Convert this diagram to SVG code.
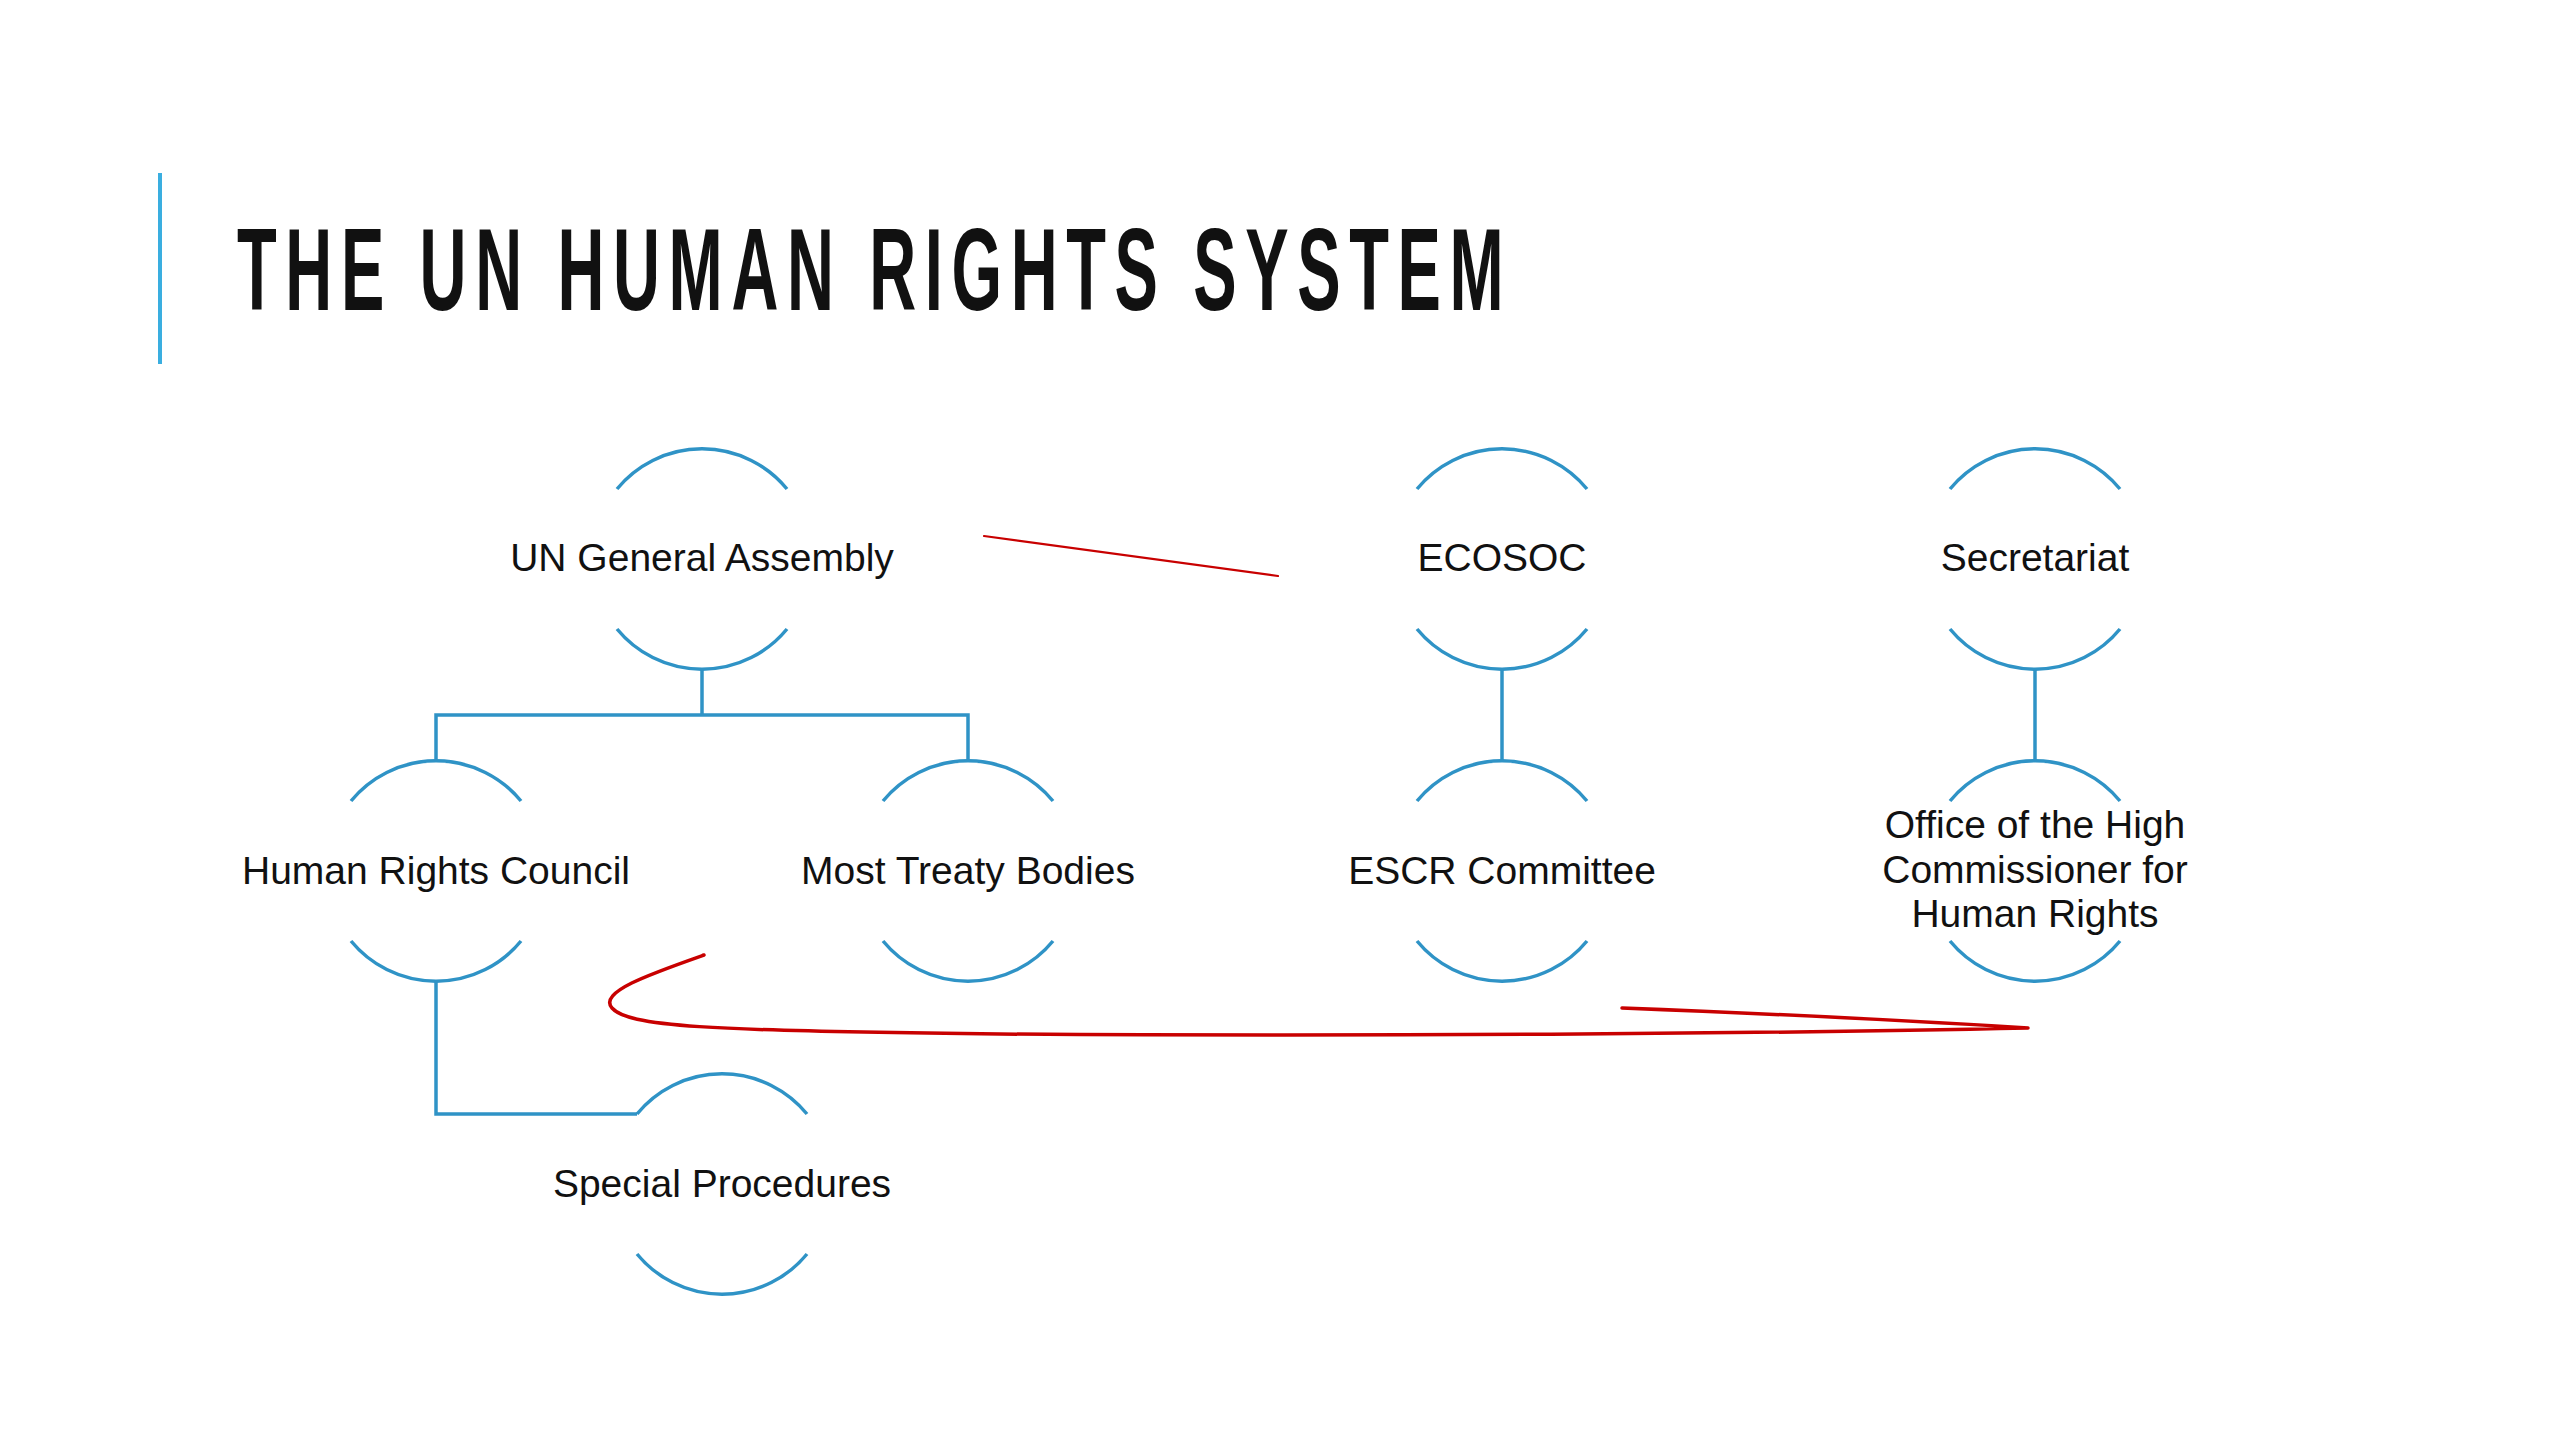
<svg xmlns="http://www.w3.org/2000/svg" width="2560" height="1440" viewBox="0 0 2560 1440">
<style>
.arc{fill:none;stroke:#2f93c6;stroke-width:3.5}
.conn{fill:none;stroke:#2f93c6;stroke-width:3.5}
.lbl{font-family:"Liberation Sans",Arial,sans-serif;font-size:39px;fill:#111;text-anchor:middle}
.title{font-family:"Liberation Sans",Arial,sans-serif;font-size:116px;font-weight:bold;fill:#111}
.ink{fill:none;stroke:#c80000;stroke-linecap:round;stroke-linejoin:round}
</style>
<defs>
<path id="top" d="M-85 -70 A110 110 0 0 1 85 -70"/>
<path id="bot" d="M-85 70 A110 110 0 0 0 85 70"/>
</defs>
<rect width="2560" height="1440" fill="#ffffff"/>
<g id="title">
<rect x="158" y="173" width="4" height="191" fill="#3aaee0"/>
<text class="title" transform="translate(237 310) scale(0.56 1)" x="0" y="0" textLength="2262" lengthAdjust="spacing">THE UN HUMAN RIGHTS SYSTEM</text>
</g>
<g id="connectors">
<path class="conn" d="M702 669 V715 M436 761 V715 H968 V761"/>
<path class="conn" d="M1502 669 V761"/>
<path class="conn" d="M2035 669 V761"/>
<path class="conn" d="M436 981 V1114 H637"/>
</g>
<g id="n-unga" transform="translate(702 559)">
<use href="#top" class="arc"/><use href="#bot" class="arc"/>
<text class="lbl" x="0" y="12">UN General Assembly</text>
</g>
<g id="n-ecosoc" transform="translate(1502 559)">
<use href="#top" class="arc"/><use href="#bot" class="arc"/>
<text class="lbl" x="0" y="12">ECOSOC</text>
</g>
<g id="n-secretariat" transform="translate(2035 559)">
<use href="#top" class="arc"/><use href="#bot" class="arc"/>
<text class="lbl" x="0" y="12">Secretariat</text>
</g>
<g id="n-hrc" transform="translate(436 871)">
<use href="#top" class="arc"/><use href="#bot" class="arc"/>
<text class="lbl" x="0" y="13">Human Rights Council</text>
</g>
<g id="n-mtb" transform="translate(968 871)">
<use href="#top" class="arc"/><use href="#bot" class="arc"/>
<text class="lbl" x="0" y="13">Most Treaty Bodies</text>
</g>
<g id="n-escr" transform="translate(1502 871)">
<use href="#top" class="arc"/><use href="#bot" class="arc"/>
<text class="lbl" x="0" y="13">ESCR Committee</text>
</g>
<g id="n-ohchr" transform="translate(2035 871)">
<use href="#top" class="arc"/><use href="#bot" class="arc"/>
<text class="lbl" x="0" y="-33">Office of the High</text>
<text class="lbl" x="0" y="12">Commissioner for</text>
<text class="lbl" x="0" y="56">Human Rights</text>
</g>
<g id="n-sp" transform="translate(722 1184)">
<use href="#top" class="arc"/><use href="#bot" class="arc"/>
<text class="lbl" x="0" y="13">Special Procedures</text>
</g>
<g id="annotations">
<path class="ink" stroke="#d23a3a" stroke-width="2.2" d="M984 536 L1278 576"/>
<path class="ink" stroke-width="3.5" d="M704 955 C650 974 598 992 612 1008 C628 1026 700 1031 1000 1034 C1400 1037 1800 1033 2028 1028 C1900 1020 1750 1013 1622 1008"/>
</g>
</svg>
